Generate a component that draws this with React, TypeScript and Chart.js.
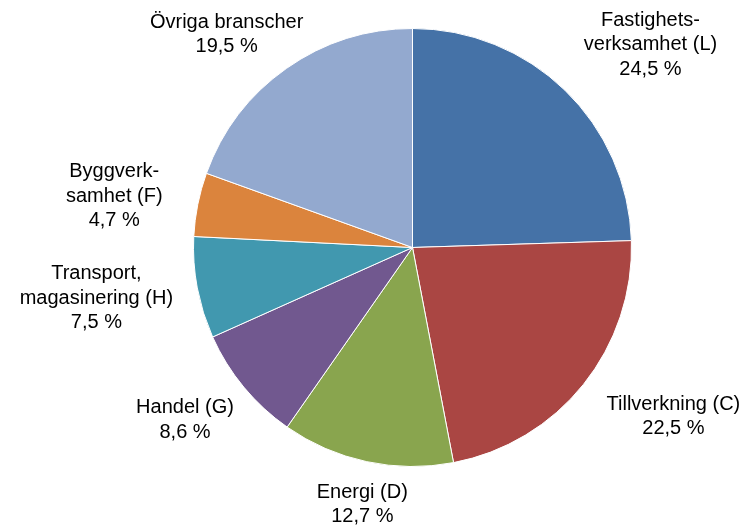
import React, { useEffect, useRef } from "react";
import { Chart, registerables } from "chart.js";

Chart.register(...registerables);

const categories: string[][] = [
  ["Fastighets-", "verksamhet (L)"],
  ["Tillverkning (C)"],
  ["Energi (D)"],
  ["Handel (G)"],
  ["Transport,", "magasinering (H)"],
  ["Byggverk-", "samhet (F)"],
  ["Övriga branscher"],
];
const values: number[] = [24.5, 22.5, 12.7, 8.6, 7.5, 4.7, 19.5];
const colors: string[] = ["#4572A7", "#AA4643", "#89A54E", "#71588F", "#4198AF", "#DB843D", "#93A9CF"];
// label placement: angular offset (deg) from slice middle, distance as multiple of radius
const labelAngleOffset: number[] = [5.45, -5.8, -1.0, 2.4, 1.5, -1.55, -6.0];
const labelDistance: number[] = [1.428, 1.419, 1.195, 1.304, 1.462, 1.382, 1.291];

const fmt = (v: number) => v.toFixed(1).replace(".", ",") + " %";

const labelPlugin = {
  id: "outerLabels",
  afterDraw(chart: any) {
    const meta = chart.getDatasetMeta(0);
    const ctx = chart.ctx;
    ctx.save();
    ctx.font = '20px "Liberation Sans", Arial, sans-serif';
    ctx.fillStyle = "#000000";
    ctx.textAlign = "center";
    ctx.textBaseline = "middle";
    const lh = 24.5;
    meta.data.forEach((arc: any, i: number) => {
      const { x, y, startAngle, endAngle, outerRadius } = arc.getProps(
        ["x", "y", "startAngle", "endAngle", "outerRadius"],
        true
      );
      const a = (startAngle + endAngle) / 2 + (labelAngleOffset[i] * Math.PI) / 180;
      const d = outerRadius * labelDistance[i];
      const cx = x + Math.cos(a) * d;
      const cy = y + Math.sin(a) * d;
      const lines = [...categories[i], fmt(values[i])];
      const top = cy - ((lines.length - 1) * lh) / 2;
      lines.forEach((t, k) => ctx.fillText(t, cx, top + k * lh));
    });
    ctx.restore();
  },
};

export default function App() {
  const ref = useRef<HTMLCanvasElement>(null);
  useEffect(() => {
    document.body.style.margin = "0";
    const chart = new Chart(ref.current!, {
      type: "pie",
      data: {
        labels: categories.map((c) => c.join(" ")),
        datasets: [
          {
            data: values,
            backgroundColor: colors,
            borderColor: "#ffffff",
            borderWidth: 1,
          },
        ],
      },
      options: {
        animation: false,
        responsive: false,
        layout: { padding: { top: 28, bottom: 60, left: 193, right: 115 } },
        plugins: {
          legend: { display: false },
          tooltip: { enabled: false },
        },
      },
      plugins: [labelPlugin],
    });
    return () => chart.destroy();
  }, []);
  return (
    <div style={{ position: "absolute", left: 0, top: 0, width: 747, height: 527, background: "#fff" }}>
      <canvas ref={ref} width={747} height={527} style={{ width: 747, height: 527 }} />
    </div>
  );
}
